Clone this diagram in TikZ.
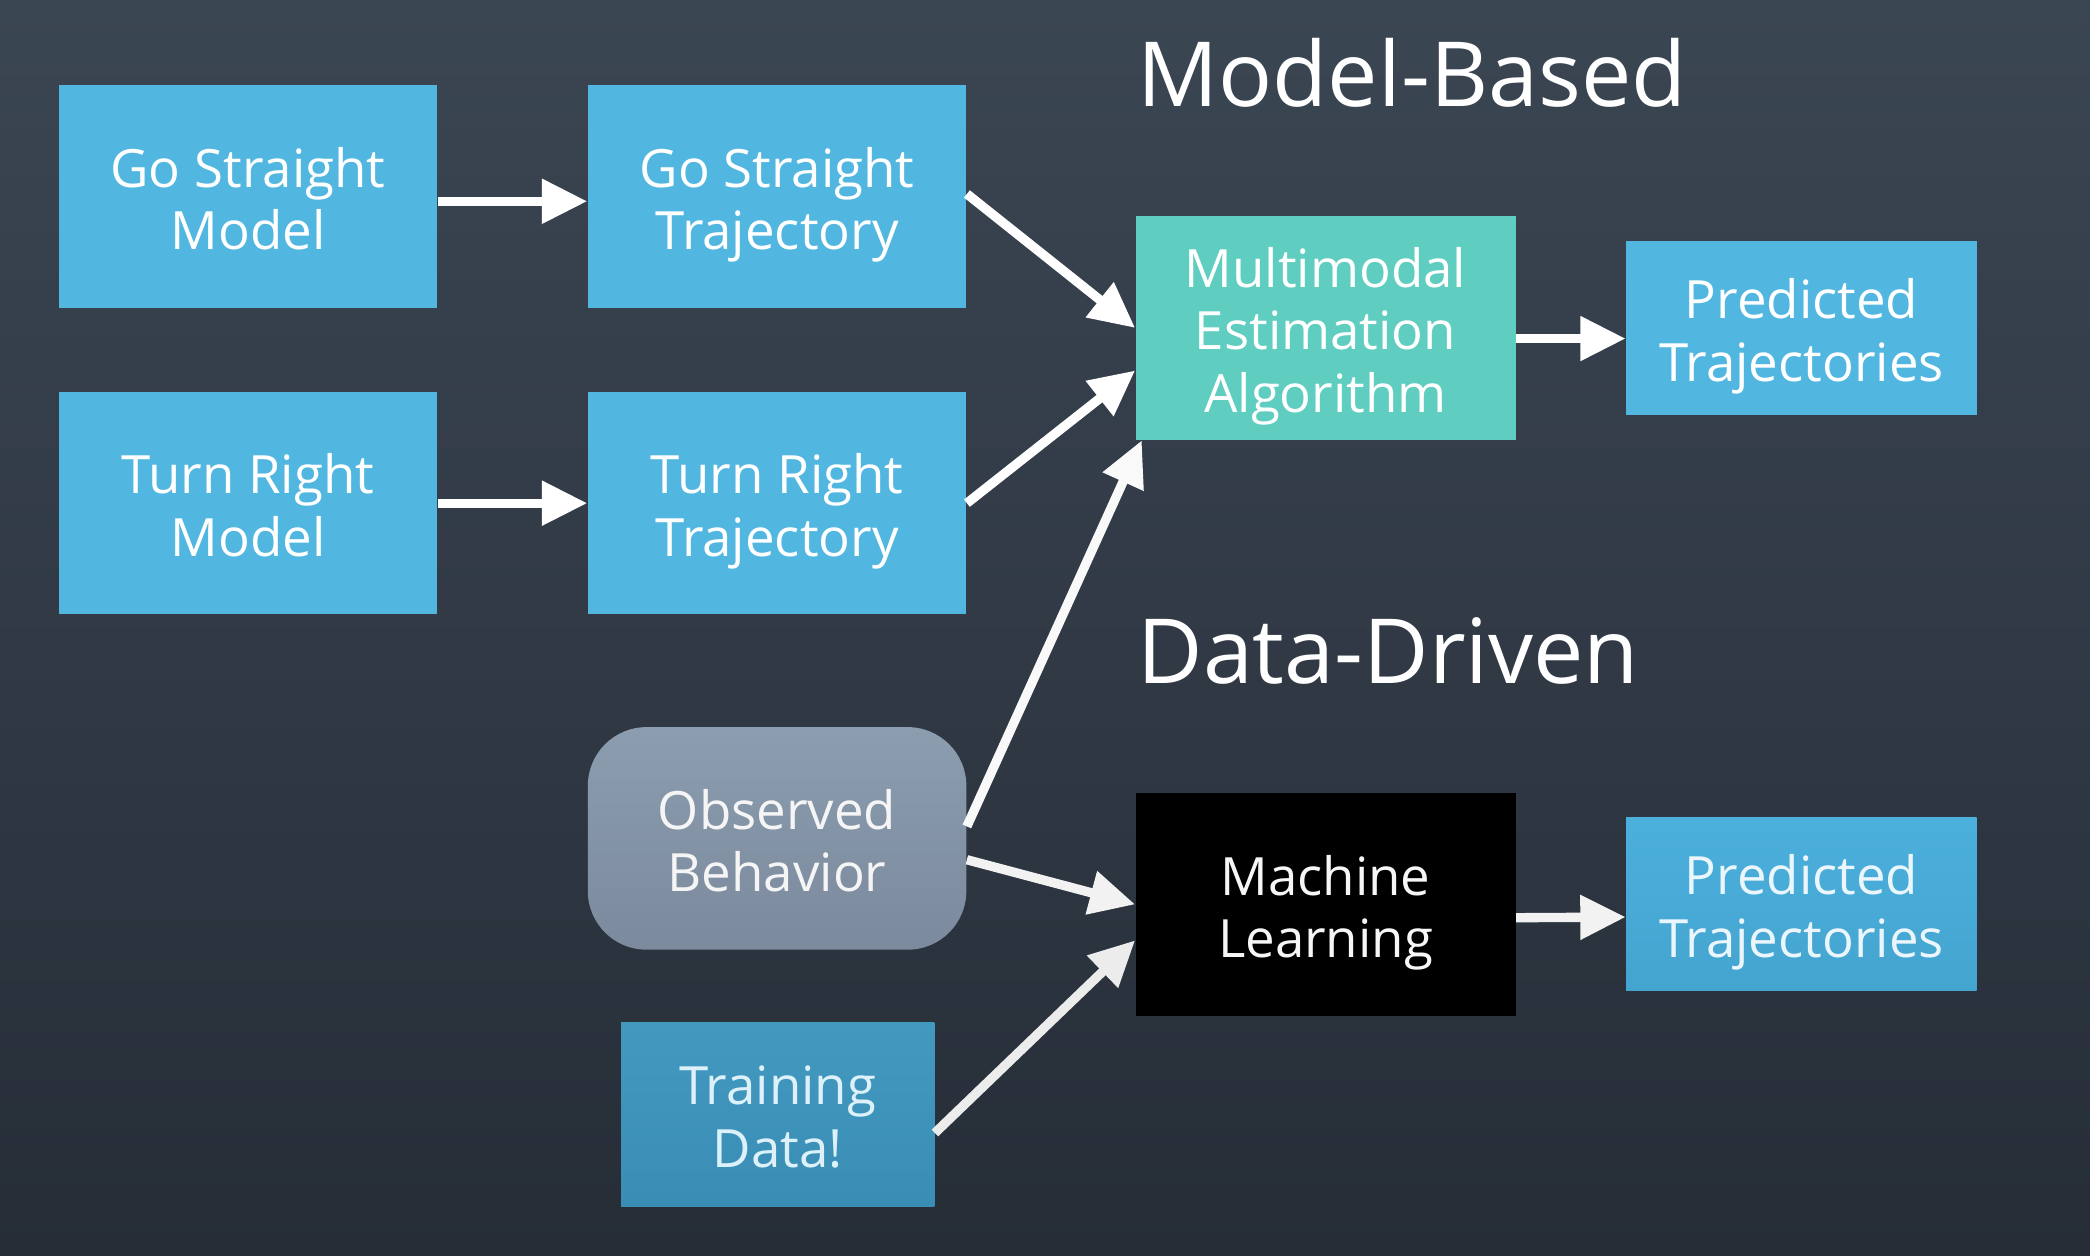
\documentclass[tikz,border=0pt]{standalone}
\usepackage{fontspec}
\setmainfont{Open Sans}
\usetikzlibrary{arrows.meta,calc}
\definecolor{bgtop}{HTML}{3B4653}
\definecolor{bgbot}{HTML}{262D37}
\definecolor{boxblue}{HTML}{52B7E0}
\definecolor{boxteal}{HTML}{5FCDBF}
\definecolor{obstop}{HTML}{8C9DB0}
\definecolor{obsbot}{HTML}{7B8A9C}
\definecolor{ptop}{HTML}{4CB0DC}
\definecolor{pbot}{HTML}{44A4D0}
\definecolor{trtop}{HTML}{4299C0}
\definecolor{trbot}{HTML}{3A8DB4}
\newcommand\hiA{\rule{0pt}{21.5pt}}
\newcommand\loA{\rule[-5pt]{0pt}{5pt}}
\tikzset{
  box/.style={rectangle, inner sep=0pt, align=center, text=white,
    font=\fontsize{19.8}{23.5}\selectfont, minimum width=142pt, minimum height=83.5pt},
  bluebox/.style={box, fill=boxblue},
  title/.style={anchor=base west, inner sep=0pt, text=white, font=\fontsize{33.7}{40}\selectfont},
  conn/.style={line width=3.5pt, -{Triangle[length=17pt,width=16pt]}, draw=white},
}
\begin{document}
\begin{tikzpicture}[x=0.5pt,y=-0.5pt]
\useasboundingbox (0,0) rectangle (1568,942);
\shade[top color=bgtop, bottom color=bgbot] (0,0) rectangle (1568,942);

\node[title] (tmb) at (853,80) {Model-Based};
\node[title] (tdd) at (853,513) {Data-Driven};

\node[bluebox] (gsm) at (186,147.5) {\hiA Go Straight\\Model\loA};
\node[bluebox] (gst) at (583,147.5) {\hiA Go Straight\\Trajectory\loA};
\node[bluebox] (trm) at (186,377.5) {\hiA Turn Right\\Model\loA};
\node[bluebox] (trt) at (583,377.5) {\hiA Turn Right\\Trajectory\loA};
\node[box, fill=boxteal, minimum width=142.5pt, minimum height=84pt] (mea) at (994.5,246) {\hiA Multimodal\\Estimation\\Algorithm\loA};
\node[bluebox, minimum width=131.5pt, minimum height=65pt] (p1) at (1351.5,246) {\hiA Predicted\\Trajectories\loA};

\node[box, rounded corners=22pt, top color=obstop, bottom color=obsbot, text=white!92!gray] (obs) at (583,629) {\hiA Observed\\Behavior\loA};
\node[box, fill=black, text=white!93!gray, minimum width=142.5pt] (ml) at (994.5,678.5) {\hiA Machine\\Learning\loA};
\node[box, top color=ptop, bottom color=pbot, text=white!88!boxblue, minimum width=131.5pt, minimum height=65pt] (p2) at (1351.5,678) {\hiA Predicted\\Trajectories\loA};
\node[box, top color=trtop, bottom color=trbot, text=white!80!boxblue, minimum width=117.5pt, minimum height=69pt] (tr) at (583.5,836) {\hiA Training\\Data!\loA};

\draw[conn] ([yshift=-1.75pt]gsm.east) -- ([yshift=-1.75pt]gst.west);
\draw[conn] (trm.east) -- (trt.west);
\draw[conn] ([yshift=1pt]gst.east) -- (mea.west);
\draw[conn] (trt.east) -- ([yshift=-16pt]mea.west);
\draw[conn] ([yshift=-4pt]mea.east) -- ([yshift=-4pt]p1.west);
\draw[conn, draw=white!95!gray] ([yshift=4.5pt]obs.east) -- ([xshift=2.5pt]mea.south west);
\draw[conn, draw=white!90!gray] ([yshift=-8pt]obs.east) -- ([yshift=0pt]ml.west);
\draw[conn, draw=white!85!gray] ([yshift=-7pt]tr.east) -- ([yshift=-13.5pt]ml.west);
\draw[conn, draw=white!90!gray] ([yshift=-5pt]ml.east) -- ([yshift=-5pt]p2.west);
\end{tikzpicture}
\end{document}
